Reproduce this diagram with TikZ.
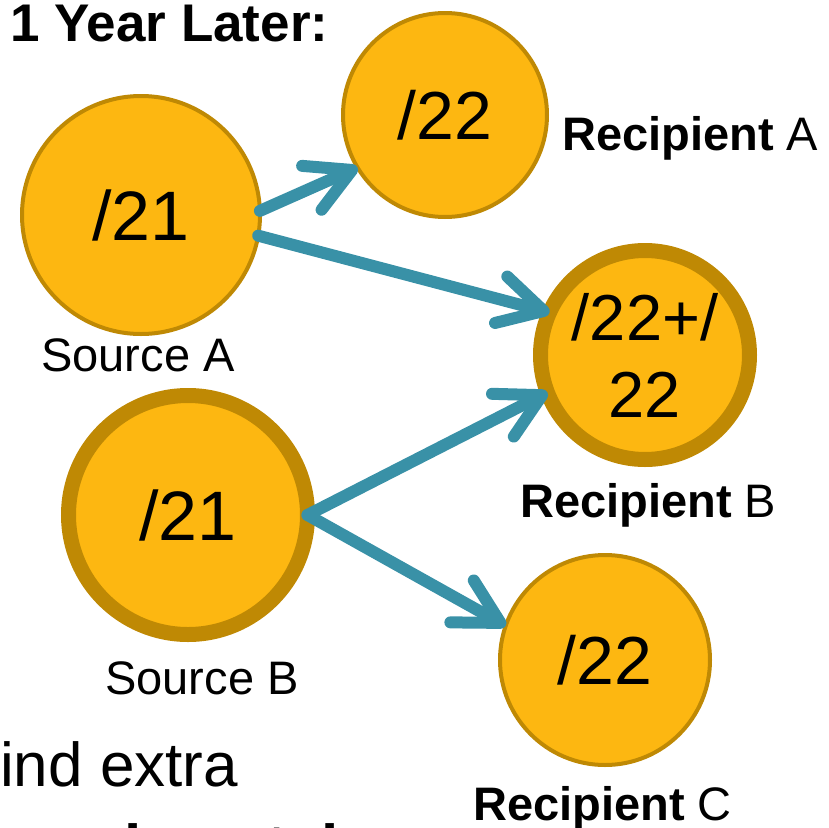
\documentclass[tikz,border=0pt]{standalone}
\usepackage{fontspec}
\setmainfont{Liberation Sans}
\usetikzlibrary{arrows.meta}
\definecolor{gfill}{RGB}{253,183,17}
\definecolor{gline}{RGB}{191,137,4}
\definecolor{tealar}{RGB}{57,145,167}
\tikzset{
  thincirc/.style={circle, draw=gline, fill=gfill, line width=4pt, inner sep=0pt, outer sep=0pt},
  thickcirc/.style={circle, draw=gline, fill=gfill, line width=15pt, inner sep=0pt, outer sep=0pt},
  bigtxt/.style={font=\fontsize{68}{78}\selectfont},
  lbl/.style={font=\fontsize{47}{56}\selectfont, anchor=base, inner sep=0pt},
  arr/.style={draw=tealar, line width=12pt, line cap=round, -{Straight Barb[length=44pt,width=48pt,round]}}
}
\begin{document}
\begin{tikzpicture}[x=1pt,y=-1pt]
\useasboundingbox (0,0) rectangle (828,828);
\path[clip] (0,0) rectangle (828,828);
% circles
\node[thincirc, minimum size=238pt, font=\fontsize{70}{80}\selectfont] (sa) at (141,215) {/21};
\node[thincirc, minimum size=204pt, bigtxt] (ra) at (445,115) {/22};
\node[thickcirc, minimum size=209pt, align=center, font=\fontsize{65}{77}\selectfont] (rb) at (645,355) {/22+/\\22};
\node[thickcirc, minimum size=239pt, font=\fontsize{70}{80}\selectfont] (sb) at (188,515) {/21};
\node[thincirc, minimum size=210pt, bigtxt] (rc) at (605,660) {/22};
% arrows
\draw[arr] (sa.2) -- (ra.211);
\draw[arr] (sa.-10) -- (rb.156);
\draw[arr] (sb.0) -- (rb.201);
\draw[arr] (sb.0) -- (rc.161);
% labels
\node[lbl, anchor=base west, font=\fontsize{53}{60}\selectfont\bfseries] (title) at (10,41) {1 Year Later:};
\node[lbl] (lsa) at (138,371) {Source A};
\node[lbl] (lsb) at (202,694) {Source B};
\node[lbl, anchor=base west] (lra) at (562,150) {\textbf{Recipient} A};
\node[lbl, anchor=base west] (lrb) at (520,517) {\textbf{Recipient} B};
\node[lbl, anchor=base west] (lrc) at (473,820) {\textbf{Recipient} C};
\node[lbl, anchor=base west, font=\fontsize{62}{70}\selectfont] (extra) at (0,786) {ind extra};
\node[lbl, anchor=base west, font=\fontsize{62}{70}\selectfont\bfseries] (mism) at (18,868) {e mismatch};
\end{tikzpicture}
\end{document}
